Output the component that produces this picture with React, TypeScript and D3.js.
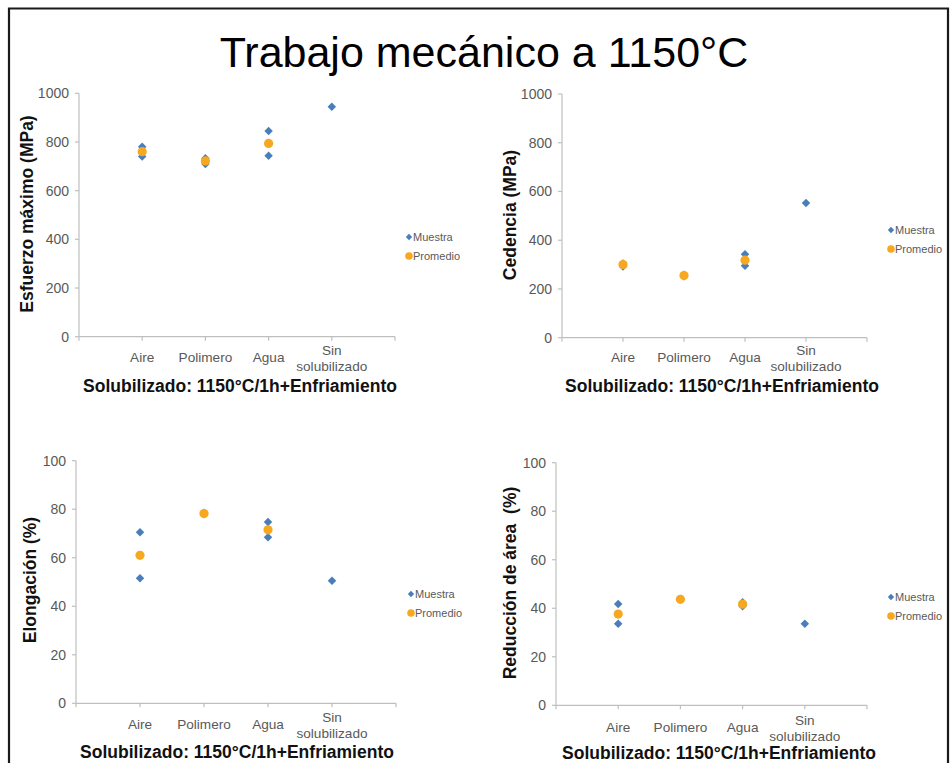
import React from "react";
import * as d3 from "d3";

const categories = ["Aire", "Polimero", "Agua", "Sin solubilizado"];
const seriesNames = ["Muestra", "Promedio"];
const chartTitle = "Trabajo mecánico a 1150°C";
const xAxisTitle = "Solubilizado: 1150°C/1h+Enfriamiento";

const esfuerzoMuestra = [[780, 740], [733, 710], [845, 743], [945]];
const esfuerzoPromedio = [760, 722, 794, null];
const cedenciaMuestra = [[305, 292], [258, 252], [342, 295], [553]];
const cedenciaPromedio = [300, 255, 318, null];
const elongacionMuestra = [[70.5, 51.5], [78.5, 78], [74.7, 68.4], [50.5]];
const elongacionPromedio = [61, 78.2, 71.5, null];
const reduccionMuestra = [[41.8, 33.6], [43.8, 43.6], [42.5, 40.8], [33.6]];
const reduccionPromedio = [37.6, 43.7, 41.7, null];

const yTicksMPa = [0, 200, 400, 600, 800, 1000];
const yTicksPct = [0, 20, 40, 60, 80, 100];

const FONT = "'Liberation Sans', Arial, sans-serif";
const BLUE = "#4A7EBB";
const ORANGE = "#F8A81E";
const AXIS = "#BFBFBF";
const TXT = "#595959";

type PanelCfg = {
  yLabel: string;
  muestra: number[][];
  promedio: (number | null)[];
  ticks: number[];
  yMax: number;
  x0: number; x1: number; yTop: number; yBot: number;
  legX: number; legY: number;
  yTitleX: number; yTitleY: number;
  catY: number;
  xTitleX: number; xTitleY: number;
};

const panels: PanelCfg[] = [
  { yLabel: "Esfuerzo máximo (MPa)", muestra: esfuerzoMuestra, promedio: esfuerzoPromedio, ticks: yTicksMPa, yMax: 1000,
    x0: 79, x1: 395, yTop: 93.3, yBot: 336.7, legX: 409, legY: 237, yTitleX: 27, yTitleY: 214, catY: 357, xTitleX: 240, xTitleY: 386 },
  { yLabel: "Cedencia (MPa)", muestra: cedenciaMuestra, promedio: cedenciaPromedio, ticks: yTicksMPa, yMax: 1000,
    x0: 562, x1: 867, yTop: 94, yBot: 337.7, legX: 891, legY: 230, yTitleX: 510, yTitleY: 215, catY: 357.5, xTitleX: 722, xTitleY: 386 },
  { yLabel: "Elongación (%)", muestra: elongacionMuestra, promedio: elongacionPromedio, ticks: yTicksPct, yMax: 100,
    x0: 76, x1: 396, yTop: 460.7, yBot: 703.3, legX: 411, legY: 594, yTitleX: 30, yTitleY: 580, catY: 724, xTitleX: 237, xTitleY: 752 },
  { yLabel: "Reducción de área  (%)", muestra: reduccionMuestra, promedio: reduccionPromedio, ticks: yTicksPct, yMax: 100,
    x0: 556, x1: 867, yTop: 462.7, yBot: 705.3, legX: 891, legY: 597, yTitleX: 510, yTitleY: 583, catY: 727, xTitleX: 719, xTitleY: 753 },
];

const diamond = d3.symbol().type(d3.symbolSquare).size(36)();
const diamondSmall = d3.symbol().type(d3.symbolSquare).size(20)();

function Panel({ p }: { p: PanelCfg }) {
  const x = d3.scaleLinear().domain([0, categories.length + 1]).range([p.x0, p.x1]);
  const y = d3.scaleLinear().domain([0, p.yMax]).range([p.yBot, p.yTop]);
  const xTicks = d3.range(0, categories.length + 2);
  return (
    <g>
      {/* y axis */}
      <line x1={p.x0} x2={p.x0} y1={y(p.yMax)} y2={y(0)} stroke={AXIS} strokeWidth={1.2} />
      {p.ticks.map((t) => (
        <g key={t}>
          <line x1={p.x0 - 4} x2={p.x0} y1={y(t)} y2={y(t)} stroke={AXIS} strokeWidth={1.2} />
          <text x={p.x0 - 10} y={y(t)} textAnchor="end" dominantBaseline="central" fontSize={14} fill={TXT} fontFamily={FONT}>{t}</text>
        </g>
      ))}
      {/* x axis */}
      <line x1={p.x0} x2={p.x1} y1={y(0)} y2={y(0)} stroke={AXIS} strokeWidth={1.2} />
      {xTicks.map((t) => (
        <line key={t} x1={x(t)} x2={x(t)} y1={y(0)} y2={y(0) + 4} stroke={AXIS} strokeWidth={1.2} />
      ))}
      {categories.map((c, i) => {
        const parts = c === "Sin solubilizado" ? ["Sin", "solubilizado"] : [c];
        return (
          <text key={c} x={x(i + 1)} textAnchor="middle" fontSize={13.6} fill={TXT} fontFamily={FONT}>
            {parts.length === 1 ? (
              <tspan x={x(i + 1)} y={p.catY} dominantBaseline="central">{parts[0]}</tspan>
            ) : (
              parts.map((s, k) => (
                <tspan key={s} x={x(i + 1)} y={p.catY - 7 + k * 16} dominantBaseline="central">{s}</tspan>
              ))
            )}
          </text>
        );
      })}
      {/* axis titles */}
      <text x={p.xTitleX} y={p.xTitleY} textAnchor="middle" dominantBaseline="central" fontSize={17.5} fontWeight="bold" fill="#111" fontFamily={FONT}>{xAxisTitle}</text>
      <text transform={`translate(${p.yTitleX},${p.yTitleY}) rotate(-90)`} textAnchor="middle" dominantBaseline="central" fontSize={17.5} fontWeight="bold" fill="#111" fontFamily={FONT} style={{ whiteSpace: "pre" }}>{p.yLabel}</text>
      {/* points */}
      {p.muestra.map((vals, i) =>
        vals.map((v, k) => (
          <path key={`m${i}-${k}`} d={diamond} transform={`translate(${x(i + 1)},${y(v)}) rotate(45)`} fill={BLUE} />
        ))
      )}
      {p.promedio.map((v, i) =>
        v == null ? null : <circle key={`p${i}`} cx={x(i + 1)} cy={y(v)} r={4.6} fill={ORANGE} />
      )}
      {/* legend */}
      <path d={diamondSmall} transform={`translate(${p.legX},${p.legY}) rotate(45)`} fill={BLUE} />
      <text x={p.legX + 4} y={p.legY} dominantBaseline="central" fontSize={11} fill={TXT} fontFamily={FONT}>{seriesNames[0]}</text>
      <circle cx={p.legX} cy={p.legY + 19} r={3.8} fill={ORANGE} />
      <text x={p.legX + 4} y={p.legY + 19} dominantBaseline="central" fontSize={11} fill={TXT} fontFamily={FONT}>{seriesNames[1]}</text>
    </g>
  );
}

export default function App() {
  return (
    <svg width={952} height={763} style={{ position: "absolute", left: 0, top: 0, background: "#fff" }}>
      <rect x={0} y={0} width={952} height={763} fill="#fff" />
      <path d="M9,770 L9,8.5 L948,8.5 L948,770" fill="none" stroke="#1a1a1a" strokeWidth={2.2} />
      <text x={484} y={67} textAnchor="middle" fontSize={43} fill="#000" fontFamily={FONT}>{chartTitle}</text>
      {panels.map((p) => (
        <Panel key={p.yLabel} p={p} />
      ))}
    </svg>
  );
}
